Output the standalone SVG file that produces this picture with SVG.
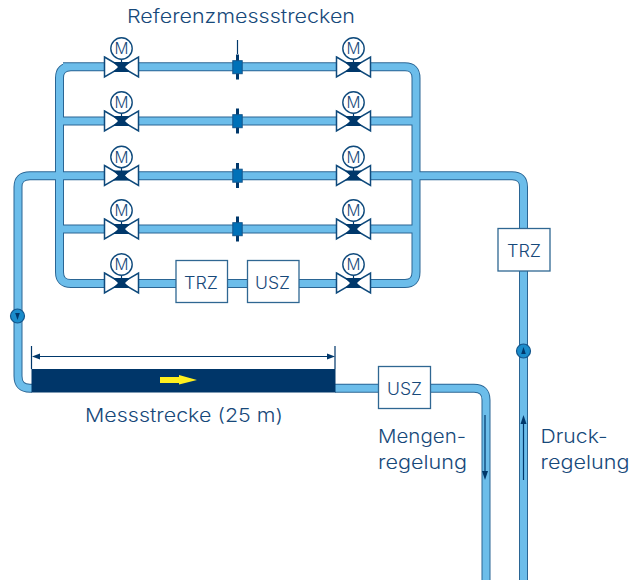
<svg xmlns="http://www.w3.org/2000/svg" width="631" height="580" viewBox="0 0 631 580">
<style>
.po{fill:none;stroke:#2a6594;stroke-width:9}
.pi{fill:none;stroke:#6cbdea;stroke-width:7}
.box{fill:#fff;stroke:#2f6792;stroke-width:1.3}
.t{font-family:"Inter","Liberation Sans",sans-serif;font-size:18.5px;font-weight:300;fill:#17497a}
.b{font-family:"Inter","Liberation Sans",sans-serif;font-size:17px;font-weight:300;fill:#17497a}
.vb{fill:#fff;stroke:#0f4a7c;stroke-width:1.5;stroke-linejoin:miter}
.vd{fill:#00386b}
.mc{fill:#fff;stroke:#0f4a7c;stroke-width:1.4}
.mt{font-family:"Inter","Liberation Sans",sans-serif;font-size:15.500px;font-weight:300;fill:#17497a;text-anchor:middle}
.ln{fill:none;stroke:#00386b;stroke-width:1.2}
.sb{fill:#0071b8;stroke:#14568c;stroke-width:1}
.sd{fill:#00386b}
.fc{fill:#1a8ccb;stroke:#14568c;stroke-width:1.2}
</style>
<defs>
<g id="valve">
<line x1="0" y1="-19" x2="0" y2="0" class="ln"/>
<polygon class="vb" points="-17,-10 17,10 17,-10 -17,10"/>
<polygon class="vd" points="-8.500,-5 -3,-5 3,-5 8.500,-5 3.500,0 8.500,5 -8.500,5 -3.500,0"/>
<circle class="mc" cx="0" cy="-18.500" r="10.700"/>
<text class="mt" x="0" y="-12.800">M</text>
</g>
<g id="sensor">
<rect class="sd" x="-1.500" y="-12.500" width="3" height="25"/>
<rect class="sb" x="-4.700" y="-6.300" width="9.400" height="13"/>
</g>
</defs>
<g id="connectors">
<path class="po" d="M63,66.700H405Q416,66.700 416,78V272Q416,283.500 405,283.500H71Q59.500,283.500 59.500,272V78Q59.500,66.700 71,66.700M59.500,121H416M59.500,229H416M32,388.300H30Q18,388.300 18,376V187Q18,175.700 30,175.700H512Q523.500,175.700 523.500,187V580M335,388.300H474Q486,388.300 486,400V580"/>
<path class="pi" d="M63,66.700H405Q416,66.700 416,78V272Q416,283.500 405,283.500H71Q59.500,283.500 59.500,272V78Q59.500,66.700 71,66.700M59.500,121H416M59.500,229H416M32,388.300H30Q18,388.300 18,376V187Q18,175.700 30,175.700H512Q523.500,175.700 523.500,187V580M335,388.300H474Q486,388.300 486,400V580"/>
<g id="dimension">
<path class="ln" d="M31.500,346V369M335,346V369M37,356.500H330"/>
<polygon class="vd" points="32,356.500 40,353.500 40,359.500"/>
<polygon class="vd" points="335,356.500 327,353.500 327,359.500"/>
</g>
<g id="flow-arrows">
<path class="ln" d="M485,415V474M523.500,421V480"/>
<polygon class="vd" points="485,480 482,471 488,471"/>
<polygon class="vd" points="523.500,415 520.500,424 526.500,424"/>
</g>
</g>
<g id="valve-l1"><use href="#valve" x="121.500" y="67"/></g>
<g id="valve-l2"><use href="#valve" x="121.500" y="121"/></g>
<g id="valve-l3"><use href="#valve" x="121.500" y="175.500"/></g>
<g id="valve-l4"><use href="#valve" x="121.500" y="229"/></g>
<g id="valve-l5"><use href="#valve" x="121.500" y="283"/></g>
<g id="valve-r1"><use href="#valve" x="353.500" y="67"/></g>
<g id="valve-r2"><use href="#valve" x="353.500" y="121"/></g>
<g id="valve-r3"><use href="#valve" x="353.500" y="175.500"/></g>
<g id="valve-r4"><use href="#valve" x="353.500" y="229"/></g>
<g id="valve-r5"><use href="#valve" x="353.500" y="283"/></g>
<g id="sensor-1"><line class="ln" x1="237.500" y1="40" x2="237.500" y2="54"/><use href="#sensor" x="237.500" y="67"/></g>
<g id="sensor-2"><use href="#sensor" x="237.500" y="121"/></g>
<g id="sensor-3"><use href="#sensor" x="237.500" y="175.500"/></g>
<g id="sensor-4"><use href="#sensor" x="237.500" y="229"/></g>
<g id="trz-1"><rect class="box" x="176" y="260.500" width="51.500" height="42"/><text class="b" x="184" y="288.500" textLength="34" lengthAdjust="spacingAndGlyphs">TRZ</text></g>
<g id="usz-1"><rect class="box" x="247.500" y="260.500" width="51.500" height="42"/><text class="b" x="255" y="288.500" textLength="35" lengthAdjust="spacingAndGlyphs">USZ</text></g>
<g id="trz-2"><rect class="box" x="498" y="228.500" width="52" height="42.500"/><text class="b" x="507" y="257" textLength="34" lengthAdjust="spacingAndGlyphs">TRZ</text></g>
<g id="usz-2"><rect class="box" x="378.500" y="366.500" width="52" height="42"/><text class="b" x="387" y="394.500" textLength="35" lengthAdjust="spacingAndGlyphs">USZ</text></g>
<g id="flowmeter-1"><circle class="fc" cx="17.500" cy="316" r="7"/><polygon class="vd" points="17.500,320 15.200,313 19.800,313"/></g>
<g id="flowmeter-2"><circle class="fc" cx="523.500" cy="351" r="7"/><polygon class="vd" points="523.500,347 521.200,354 525.800,354"/></g>
<g id="test-section">
<rect x="31.500" y="369" width="304" height="23.500" fill="#003669"/>
<polygon points="160,377 179,377 179,375 197,380 179,384.500 179,383 160,383" fill="#fff01f"/>
</g>
<text class="t" x="127" y="22.500" textLength="228" lengthAdjust="spacingAndGlyphs">Referenzmessstrecken</text>
<text class="t" x="85" y="422" textLength="198" lengthAdjust="spacingAndGlyphs">Messstrecke (25 m)</text>
<text class="t" x="378" y="442.500" textLength="88" lengthAdjust="spacingAndGlyphs">Mengen-</text>
<text class="t" x="378" y="469" textLength="89" lengthAdjust="spacingAndGlyphs">regelung</text>
<text class="t" x="540.500" y="442.500" textLength="67" lengthAdjust="spacingAndGlyphs">Druck-</text>
<text class="t" x="540.500" y="469" textLength="89" lengthAdjust="spacingAndGlyphs">regelung</text>
</svg>
